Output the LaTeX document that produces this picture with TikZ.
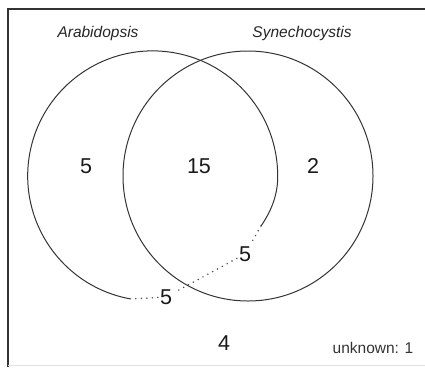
\documentclass[tikz,border=0pt]{standalone}
\usepackage{fontspec}
\setmainfont{Liberation Sans}
\begin{document}
\begin{tikzpicture}[x=1pt,y=-1pt,
  ring/.style={draw=black!80, line width=1pt},
  num/.style={font=\fontsize{21.5}{24}\selectfont, text=black!90, inner sep=2pt},
  title/.style={font=\fontsize{15.5}{18}\selectfont\itshape, text=black!85},
  dotline/.style={draw=black!70, line width=1.7pt, line cap=round, dash pattern=on 0pt off 5.5pt}]
\useasboundingbox (0,0) rectangle (425,367);
% frame
\draw[line width=2pt, black!80] (8,367) -- (8,9) -- (425,9);
\draw[line width=1pt, black!12] (8,365.5) -- (425,365.5);
% right circle
\draw[ring] (248,176) circle[radius=125];
% left circle (open at bottom right)
\coordinate (la) at (131,299);
\coordinate (lb) at (261,226);
\draw[ring] (la) arc[start angle=100, end angle=360, radius=125]
  .. controls (278,196) and (270,213) .. (lb);
% titles
\node[title] (ta) at (98,33) {Arabidopsis};
\node[title] (ts) at (302,33) {Synechocystis};
% numbers
\node[num] (n5) at (86,166) {5};
\node[num] (n15) at (199,166) {15};
\node[num] (n2) at (313,166) {2};
\node[num] (r5) at (245,254) {5};
\node[num] (b5) at (166,297) {5};
\node[num] (n4) at (224,343) {4};
\node[font=\fontsize{15.5}{18}\selectfont, text=black!80] (unk) at (373,348) {unknown: 1};
% dotted link
\draw[dotline] (lb) -- (r5) -- (b5) -- (la);
\end{tikzpicture}
\end{document}
